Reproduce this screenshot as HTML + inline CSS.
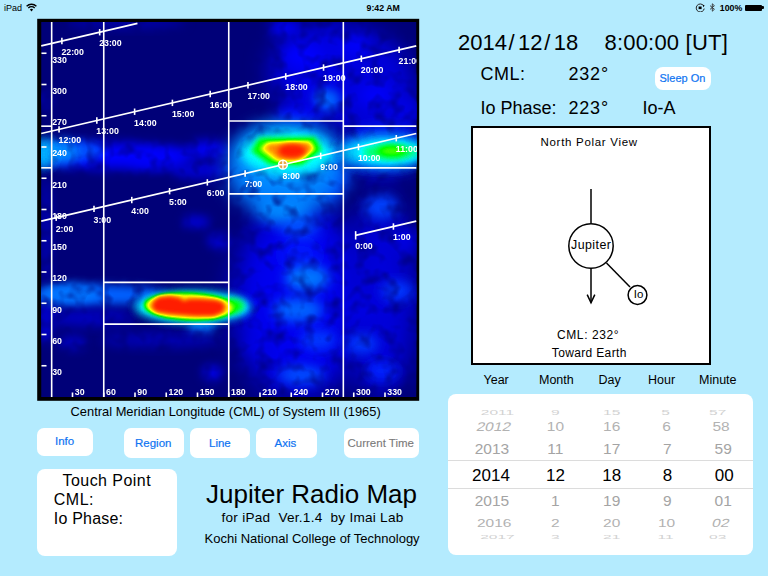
<!DOCTYPE html>
<html><head><meta charset="utf-8">
<style>
html,body{margin:0;padding:0}
body{width:768px;height:576px;background:#B4EBFE;position:relative;overflow:hidden;font-family:"Liberation Sans",sans-serif;color:#000}
.a{position:absolute;white-space:nowrap;line-height:1}
.w{position:absolute;background:#fff}
.bt{color:#0f74f2;font-size:11.5px;-webkit-text-stroke:0.2px #0f74f2}
</style></head><body>
<!-- status bar -->
<div class="a" id="s_ipad" style="left:4px;top:3.9px;font-size:9px">iPad</div>
<svg class="a" style="left:26px;top:3px" width="11" height="9" viewBox="0 0 11 9"><path d="M0.6 3.2 A7 7 0 0 1 10.4 3.2" stroke="#000" stroke-width="1.4" fill="none"/><path d="M2.3 5 A4.6 4.6 0 0 1 8.7 5" stroke="#000" stroke-width="1.4" fill="none"/><path d="M3.9 6.6 A2.2 2.2 0 0 1 7.1 6.6 L5.5 8.4 Z" fill="#000"/></svg>
<div class="a" id="s_time" style="left:366.5px;top:3.6px;font-size:8.8px;font-weight:bold">9:42 AM</div>
<svg class="a" style="left:695px;top:3px" width="11" height="9" viewBox="0 0 11 9"><path d="M8.6 2.8 A4 4 0 1 0 9.2 5.6" stroke="#222" stroke-width="1" fill="none"/><path d="M7.6 1.6 L9.6 2.4 L8.3 4.2 Z" fill="#000"/><rect x="3.6" y="3.5" width="3" height="2.6" fill="#000"/></svg>
<svg class="a" style="left:709px;top:3px" width="7" height="9" viewBox="0 0 7 9"><path d="M1 2.6 L5.4 6.3 L3.3 8.2 L3.3 0.8 L5.4 2.7 L1 6.4" stroke="#333" stroke-width="0.9" fill="none"/></svg>
<div class="a" id="s_pct" style="left:719.8px;top:3.6px;font-size:8.8px;font-weight:bold">100%</div>
<div class="w" style="left:745px;top:4.5px;width:17px;height:6.5px;background:#000;border-radius:1px"></div>
<div class="w" style="left:762.3px;top:6.3px;width:1.5px;height:2.8px;background:#000;border-radius:0 1px 1px 0"></div>

<!-- right panel -->
<div class="a" id="r_date" style="left:458px;top:32px;font-size:22px">2014<span style="margin:0 3.4px 0 1.6px">/</span>12<span style="margin:0 3.4px 0 1.6px">/</span>18</div>
<div class="a" id="r_ut" style="left:604.5px;top:32px;font-size:22px;letter-spacing:0.2px">8:00:00 [UT]</div>
<div class="a" id="r_cml" style="left:480.5px;top:65.2px;font-size:18px;letter-spacing:0.5px">CML:</div>
<div class="a" id="r_cmlv" style="left:568.5px;top:65.2px;font-size:18px;letter-spacing:0.8px">232°</div>
<div class="a" id="r_io" style="left:480.5px;top:98.5px;font-size:18px">Io Phase:</div>
<div class="a" id="r_iov" style="left:568.5px;top:98.5px;font-size:18px;letter-spacing:0.8px">223°</div>
<div class="a" id="r_ioa" style="left:642.5px;top:98.5px;font-size:18px">Io-A</div>
<div class="w" style="left:655px;top:67px;width:56px;height:23px;border-radius:8px"></div>
<div class="a bt" id="r_sleep" style="left:659.5px;top:72.5px;font-size:11px">Sleep On</div>

<!-- polar view -->
<div class="w" style="left:471px;top:126px;width:236px;height:235px;border:2px solid #000"></div>
<div class="a" id="p_title" style="left:540.5px;top:137.2px;font-size:11.5px;letter-spacing:0.7px">North Polar View</div>
<svg class="a" style="left:471px;top:126px" width="240" height="240">
<g stroke="#000" stroke-width="1.5" fill="none">
<line x1="120" y1="63" x2="120" y2="97"/>
<circle cx="120" cy="120" r="22.2"/>
<line x1="120" y1="142" x2="120" y2="176.5"/>
<polyline points="116.2,168.6 120,176.8 123.8,168.6"/>
<line x1="135.5" y1="137" x2="159" y2="161"/>
<circle cx="166.5" cy="169" r="9.4"/>
</g></svg>
<div class="a" id="p_jup" style="left:571px;top:239.3px;font-size:12.4px;letter-spacing:0.45px">Jupiter</div>
<div class="a" id="p_io" style="left:633.8px;top:289px;font-size:11.5px">Io</div>
<div class="a" id="p_cml" style="left:557px;top:328.8px;font-size:12px;letter-spacing:0.6px">CML: 232°</div>
<div class="a" id="p_tw" style="left:551.8px;top:346.6px;font-size:12px;letter-spacing:0.35px">Toward Earth</div>

<!-- picker -->
<div class="a" id="k_year" style="left:483.5px;top:373.5px;font-size:12.5px">Year</div>
<div class="a" id="k_month" style="left:539px;top:373.5px;font-size:12.5px">Month</div>
<div class="a" id="k_day" style="left:598.5px;top:373.5px;font-size:12.5px">Day</div>
<div class="a" id="k_hour" style="left:648px;top:373.5px;font-size:12.5px">Hour</div>
<div class="a" id="k_min" style="left:699px;top:373.5px;font-size:12.5px">Minute</div>
<div class="w" style="left:448px;top:394px;width:305px;height:161px;border-radius:8px"></div>
<div class="w" style="left:448px;top:459.7px;width:305px;height:1px;background:#dcdcdc"></div>
<div class="w" style="left:448px;top:487.8px;width:305px;height:1px;background:#dcdcdc"></div>
<div class="a" style="left:447.5px;width:100px;text-align:center;top:405.4px;font-size:15.5px;color:#d2d2d2;transform-origin:50% 7.6px;transform:scaleY(0.42)">2011</div>
<div class="a" style="left:444.2px;width:100px;text-align:center;top:419.1px;font-size:15.5px;color:#b2b2b2;transform-origin:50% 7.6px;transform:scaleY(0.81) skewX(-11deg)">2012</div>
<div class="a" style="left:442.0px;width:100px;text-align:center;top:441.0px;font-size:15.5px;color:#a4a4a4;transform-origin:50% 7.6px;transform:scaleY(1.0)">2013</div>
<div class="a" style="left:441.0px;width:100px;text-align:center;top:466.7px;font-size:17.0px;color:#000;transform-origin:50% 8.3px;transform:scaleY(1.0)">2014</div>
<div class="a" style="left:442.0px;width:100px;text-align:center;top:493.1px;font-size:15.5px;color:#a4a4a4;transform-origin:50% 7.6px;transform:scaleY(1.0)">2015</div>
<div class="a" style="left:444.2px;width:100px;text-align:center;top:514.6px;font-size:15.5px;color:#b2b2b2;transform-origin:50% 7.6px;transform:scaleY(0.76)">2016</div>
<div class="a" style="left:447.5px;width:100px;text-align:center;top:528.5px;font-size:15.5px;color:#d2d2d2;transform-origin:50% 7.6px;transform:scaleY(0.4)">2017</div>
<div class="a" style="left:505.4px;width:100px;text-align:center;top:405.4px;font-size:15.5px;color:#d2d2d2;transform-origin:50% 7.6px;transform:scaleY(0.42)">9</div>
<div class="a" style="left:505.4px;width:100px;text-align:center;top:419.1px;font-size:15.5px;color:#b2b2b2;transform-origin:50% 7.6px;transform:scaleY(0.81)">10</div>
<div class="a" style="left:505.4px;width:100px;text-align:center;top:441.0px;font-size:15.5px;color:#a4a4a4;transform-origin:50% 7.6px;transform:scaleY(1.0)">11</div>
<div class="a" style="left:505.4px;width:100px;text-align:center;top:466.7px;font-size:17.0px;color:#000;transform-origin:50% 8.3px;transform:scaleY(1.0)">12</div>
<div class="a" style="left:505.4px;width:100px;text-align:center;top:493.1px;font-size:15.5px;color:#a4a4a4;transform-origin:50% 7.6px;transform:scaleY(1.0)">1</div>
<div class="a" style="left:505.4px;width:100px;text-align:center;top:514.6px;font-size:15.5px;color:#b2b2b2;transform-origin:50% 7.6px;transform:scaleY(0.76)">2</div>
<div class="a" style="left:505.4px;width:100px;text-align:center;top:528.5px;font-size:15.5px;color:#d2d2d2;transform-origin:50% 7.6px;transform:scaleY(0.4)">3</div>
<div class="a" style="left:561.7px;width:100px;text-align:center;top:405.4px;font-size:15.5px;color:#d2d2d2;transform-origin:50% 7.6px;transform:scaleY(0.42)">15</div>
<div class="a" style="left:561.7px;width:100px;text-align:center;top:419.1px;font-size:15.5px;color:#b2b2b2;transform-origin:50% 7.6px;transform:scaleY(0.81)">16</div>
<div class="a" style="left:561.7px;width:100px;text-align:center;top:441.0px;font-size:15.5px;color:#a4a4a4;transform-origin:50% 7.6px;transform:scaleY(1.0)">17</div>
<div class="a" style="left:561.7px;width:100px;text-align:center;top:466.7px;font-size:17.0px;color:#000;transform-origin:50% 8.3px;transform:scaleY(1.0)">18</div>
<div class="a" style="left:561.7px;width:100px;text-align:center;top:493.1px;font-size:15.5px;color:#a4a4a4;transform-origin:50% 7.6px;transform:scaleY(1.0)">19</div>
<div class="a" style="left:561.7px;width:100px;text-align:center;top:514.6px;font-size:15.5px;color:#b2b2b2;transform-origin:50% 7.6px;transform:scaleY(0.76)">20</div>
<div class="a" style="left:561.7px;width:100px;text-align:center;top:528.5px;font-size:15.5px;color:#d2d2d2;transform-origin:50% 7.6px;transform:scaleY(0.4)">21</div>
<div class="a" style="left:615.6px;width:100px;text-align:center;top:405.4px;font-size:15.5px;color:#d2d2d2;transform-origin:50% 7.6px;transform:scaleY(0.42)">5</div>
<div class="a" style="left:616.6px;width:100px;text-align:center;top:419.1px;font-size:15.5px;color:#b2b2b2;transform-origin:50% 7.6px;transform:scaleY(0.81)">6</div>
<div class="a" style="left:617.3px;width:100px;text-align:center;top:441.0px;font-size:15.5px;color:#a4a4a4;transform-origin:50% 7.6px;transform:scaleY(1.0)">7</div>
<div class="a" style="left:617.6px;width:100px;text-align:center;top:466.7px;font-size:17.0px;color:#000;transform-origin:50% 8.3px;transform:scaleY(1.0)">8</div>
<div class="a" style="left:617.3px;width:100px;text-align:center;top:493.1px;font-size:15.5px;color:#a4a4a4;transform-origin:50% 7.6px;transform:scaleY(1.0)">9</div>
<div class="a" style="left:616.6px;width:100px;text-align:center;top:514.6px;font-size:15.5px;color:#b2b2b2;transform-origin:50% 7.6px;transform:scaleY(0.76)">10</div>
<div class="a" style="left:615.6px;width:100px;text-align:center;top:528.5px;font-size:15.5px;color:#d2d2d2;transform-origin:50% 7.6px;transform:scaleY(0.4)">11</div>
<div class="a" style="left:667.7px;width:100px;text-align:center;top:405.4px;font-size:15.5px;color:#d2d2d2;transform-origin:50% 7.6px;transform:scaleY(0.42)">57</div>
<div class="a" style="left:671.0px;width:100px;text-align:center;top:419.1px;font-size:15.5px;color:#b2b2b2;transform-origin:50% 7.6px;transform:scaleY(0.81)">58</div>
<div class="a" style="left:673.2px;width:100px;text-align:center;top:441.0px;font-size:15.5px;color:#a4a4a4;transform-origin:50% 7.6px;transform:scaleY(1.0)">59</div>
<div class="a" style="left:674.2px;width:100px;text-align:center;top:466.7px;font-size:17.0px;color:#000;transform-origin:50% 8.3px;transform:scaleY(1.0)">00</div>
<div class="a" style="left:673.2px;width:100px;text-align:center;top:493.1px;font-size:15.5px;color:#a4a4a4;transform-origin:50% 7.6px;transform:scaleY(1.0)">01</div>
<div class="a" style="left:671.0px;width:100px;text-align:center;top:514.6px;font-size:15.5px;color:#b2b2b2;transform-origin:50% 7.6px;transform:scaleY(0.76) skewX(-11deg)">02</div>
<div class="a" style="left:667.7px;width:100px;text-align:center;top:528.5px;font-size:15.5px;color:#d2d2d2;transform-origin:50% 7.6px;transform:scaleY(0.4)">03</div>

<!-- below plot -->
<div class="a" id="xl" style="left:70.5px;top:406.2px;font-size:12.9px">Central Meridian Longitude (CML) of System III (1965)</div>
<div class="w" style="left:37.3px;top:428.3px;width:55.7px;height:27.4px;border-radius:7px"></div>
<div class="a bt" id="b_info" style="left:55px;top:436px">Info</div>
<div class="w" style="left:124.3px;top:427.8px;width:60px;height:30.5px;border-radius:7px"></div>
<div class="a bt" id="b_region" style="left:135px;top:438px">Region</div>
<div class="w" style="left:190.2px;top:427.8px;width:60px;height:30.5px;border-radius:7px"></div>
<div class="a bt" id="b_line" style="left:209px;top:438px">Line</div>
<div class="w" style="left:256px;top:427.8px;width:60.5px;height:30.5px;border-radius:7px"></div>
<div class="a bt" id="b_axis" style="left:274.5px;top:438px">Axis</div>
<div class="w" style="left:343.8px;top:427.8px;width:75.2px;height:30.5px;border-radius:7px"></div>
<div class="a bt" id="b_ct" style="left:347.5px;top:438px;color:#7a7a7a;-webkit-text-stroke:0.1px #7a7a7a">Current Time</div>

<div class="w" style="left:37.3px;top:469.3px;width:140px;height:86.4px;border-radius:8px"></div>
<div class="a" id="t_tp" style="left:62.5px;top:473px;font-size:16px;letter-spacing:0.45px">Touch Point</div>
<div class="a" id="t_cml" style="left:53.8px;top:491.8px;font-size:16px;letter-spacing:0.5px">CML:</div>
<div class="a" id="t_io" style="left:53.8px;top:510.5px;font-size:16px;letter-spacing:0.2px">Io Phase:</div>

<div class="a" id="j_title" style="left:206px;top:481px;font-size:26px">Jupiter Radio Map</div>
<div class="a" id="j_sub" style="left:221.5px;top:511.3px;font-size:13.6px;letter-spacing:0.25px;white-space:pre">for iPad  Ver.1.4  by Imai Lab</div>
<div class="a" id="j_kochi" style="left:204.5px;top:531.8px;font-size:13px">Kochi National College of Technology</div>
<svg id="plot" width="768" height="576" style="position:absolute;left:0;top:0"><rect x="37.2" y="18.8" width="382" height="382" fill="#000"/><defs><filter id="b2" x="-60%" y="-60%" width="220%" height="220%"><feGaussianBlur stdDeviation="2"/></filter><filter id="b2_2" x="-60%" y="-60%" width="220%" height="220%"><feGaussianBlur stdDeviation="2.2"/></filter><filter id="b2_5" x="-60%" y="-60%" width="220%" height="220%"><feGaussianBlur stdDeviation="2.5"/></filter><filter id="b3" x="-60%" y="-60%" width="220%" height="220%"><feGaussianBlur stdDeviation="3"/></filter><filter id="b4" x="-60%" y="-60%" width="220%" height="220%"><feGaussianBlur stdDeviation="4"/></filter><filter id="b5" x="-60%" y="-60%" width="220%" height="220%"><feGaussianBlur stdDeviation="5"/></filter><filter id="b6" x="-60%" y="-60%" width="220%" height="220%"><feGaussianBlur stdDeviation="6"/></filter><filter id="b7" x="-60%" y="-60%" width="220%" height="220%"><feGaussianBlur stdDeviation="7"/></filter><filter id="b8" x="-60%" y="-60%" width="220%" height="220%"><feGaussianBlur stdDeviation="8"/></filter><filter id="b10" x="-60%" y="-60%" width="220%" height="220%"><feGaussianBlur stdDeviation="10"/></filter><filter id="b12" x="-60%" y="-60%" width="220%" height="220%"><feGaussianBlur stdDeviation="12"/></filter><filter id="b14" x="-60%" y="-60%" width="220%" height="220%"><feGaussianBlur stdDeviation="14"/></filter>
<filter id="jet" x="-50%" y="-50%" width="200%" height="200%" color-interpolation-filters="sRGB">
<feComponentTransfer in="SourceGraphic">
<feFuncR type="table" tableValues="0 0 0 0 0 1 1 1 1"/>
<feFuncG type="table" tableValues="0 0 0.5 1 1 1 0.5 0.1 0"/>
<feFuncB type="table" tableValues="0.47 1 1 1 0 0 0 0 0"/>
</feComponentTransfer>
</filter>
<filter id="mot" filterUnits="userSpaceOnUse" x="41" y="22" width="376" height="376" color-interpolation-filters="sRGB">
<feTurbulence type="fractalNoise" baseFrequency="0.07" numOctaves="2" seed="5" result="n"/>
<feColorMatrix in="n" type="matrix" values="0 0 0 0 0  0 0 0 0 0  0 0 0 0 0  1.6 0 0 0 0.12" result="m"/>
<feComposite in="SourceGraphic" in2="m" operator="in"/>
</filter>
<clipPath id="pc"><rect x="41.25" y="22" width="375" height="375"/></clipPath>
</defs>
<g clip-path="url(#pc)"><rect x="41" y="22" width="376" height="376" fill="rgb(0,0,120)"/><g filter="url(#mot)">
<ellipse cx="330" cy="72" rx="60" ry="50" fill="rgb(0,0,228)" filter="url(#b12)"/>
<ellipse cx="380" cy="110" rx="38" ry="70" fill="rgb(0,0,217)" filter="url(#b12)"/>
<ellipse cx="298" cy="300" rx="64" ry="98" fill="rgb(0,0,239)" filter="url(#b14)"/>
<ellipse cx="380" cy="300" rx="36" ry="98" fill="rgb(0,0,217)" filter="url(#b14)"/>
<ellipse cx="285" cy="28" rx="16" ry="8" fill="rgb(0,0,250)" filter="url(#b6)"/>
<ellipse cx="302" cy="56" rx="20" ry="12" fill="rgb(0,5,255)" filter="url(#b7)"/>
<ellipse cx="327" cy="100" rx="13" ry="11" fill="rgb(0,97,255)" filter="url(#b5)"/>
<ellipse cx="297" cy="114" rx="22" ry="8" fill="rgb(0,5,255)" filter="url(#b6)"/>
<ellipse cx="356" cy="46" rx="14" ry="10" fill="rgb(0,0,250)" filter="url(#b6)"/>
<ellipse cx="375" cy="95" rx="18" ry="12" fill="rgb(0,0,250)" filter="url(#b7)"/>
<ellipse cx="405" cy="110" rx="12" ry="14" fill="rgb(0,0,228)" filter="url(#b7)"/>
<ellipse cx="283" cy="206" rx="26" ry="16" fill="rgb(0,148,255)" filter="url(#b7)"/>
<ellipse cx="300" cy="228" rx="18" ry="12" fill="rgb(0,77,255)" filter="url(#b7)"/>
<ellipse cx="300" cy="255" rx="20" ry="15" fill="rgb(0,25,255)" filter="url(#b8)"/>
<ellipse cx="307" cy="278" rx="22" ry="13" fill="rgb(0,117,255)" filter="url(#b6)"/>
<ellipse cx="298" cy="310" rx="25" ry="12" fill="rgb(0,97,255)" filter="url(#b6)"/>
<ellipse cx="318" cy="340" rx="18" ry="10" fill="rgb(0,56,255)" filter="url(#b6)"/>
<ellipse cx="301" cy="375" rx="23" ry="9" fill="rgb(0,77,255)" filter="url(#b6)"/>
<ellipse cx="260" cy="345" rx="14" ry="9" fill="rgb(0,0,228)" filter="url(#b6)"/>
<ellipse cx="330" cy="180" rx="14" ry="18" fill="rgb(0,15,255)" filter="url(#b7)"/>
<ellipse cx="381" cy="207" rx="17" ry="12" fill="rgb(0,66,255)" filter="url(#b6)"/>
<ellipse cx="397" cy="291" rx="16" ry="10" fill="rgb(0,56,255)" filter="url(#b6)"/>
<ellipse cx="362" cy="344" rx="16" ry="10" fill="rgb(0,56,255)" filter="url(#b6)"/>
<ellipse cx="382" cy="371" rx="16" ry="10" fill="rgb(0,36,255)" filter="url(#b6)"/>
<ellipse cx="360" cy="310" rx="14" ry="10" fill="rgb(0,0,228)" filter="url(#b7)"/>
<ellipse cx="405" cy="240" rx="12" ry="14" fill="rgb(0,0,228)" filter="url(#b7)"/>
<ellipse cx="115" cy="156" rx="78" ry="13" fill="rgb(0,5,255)" filter="url(#b6)"/>
<ellipse cx="76" cy="151" rx="28" ry="10" fill="rgb(0,77,255)" filter="url(#b5)"/>
<ellipse cx="158" cy="160" rx="30" ry="9" fill="rgb(0,0,250)" filter="url(#b6)"/>
<ellipse cx="207" cy="150" rx="20" ry="9" fill="rgb(0,0,250)" filter="url(#b6)"/>
<ellipse cx="200" cy="170" rx="30" ry="8" fill="rgb(0,0,217)" filter="url(#b6)"/>
<ellipse cx="196" cy="222" rx="14" ry="7" fill="rgb(0,0,206)" filter="url(#b5)"/>
<ellipse cx="219" cy="241" rx="12" ry="8" fill="rgb(0,0,206)" filter="url(#b5)"/>
<ellipse cx="46" cy="230" rx="6" ry="55" fill="rgb(0,0,174)" filter="url(#b5)"/>
<ellipse cx="46" cy="320" rx="7" ry="25" fill="rgb(0,0,206)" filter="url(#b5)"/>
<ellipse cx="46" cy="100" rx="6" ry="10" fill="rgb(0,0,174)" filter="url(#b5)"/>
<ellipse cx="100" cy="295" rx="68" ry="10" fill="rgb(0,97,255)" filter="url(#b5)"/>
<ellipse cx="70" cy="294" rx="30" ry="10" fill="rgb(0,117,255)" filter="url(#b5)"/>
<ellipse cx="90" cy="318" rx="45" ry="8" fill="rgb(0,0,196)" filter="url(#b6)"/>
<ellipse cx="202" cy="328" rx="14" ry="7" fill="rgb(0,117,255)" filter="url(#b5)"/>
<ellipse cx="160" cy="340" rx="60" ry="7" fill="rgb(0,0,185)" filter="url(#b6)"/>
<ellipse cx="212" cy="373" rx="10" ry="8" fill="rgb(0,0,228)" filter="url(#b5)"/>
<ellipse cx="73" cy="343" rx="14" ry="8" fill="rgb(0,0,185)" filter="url(#b5)"/>
<ellipse cx="125" cy="22" rx="60" ry="6" fill="rgb(0,0,174)" filter="url(#b6)"/>
<ellipse cx="287" cy="170" rx="60" ry="46" fill="rgb(0,128,255)" filter="url(#b10)"/>
<ellipse cx="285" cy="153" rx="50" ry="28" fill="rgb(0,158,255)" filter="url(#b8)"/>
<ellipse cx="385" cy="150" rx="42" ry="19" fill="rgb(0,77,255)" filter="url(#b8)"/>
<ellipse cx="58" cy="152" rx="20" ry="12" fill="rgb(0,138,255)" filter="url(#b6)"/>
</g>
<g filter="url(#jet)">
<ellipse cx="44" cy="154" rx="10" ry="15" fill="rgb(76,76,76)" filter="url(#b5)"/>
<ellipse cx="287" cy="153" rx="45" ry="21" fill="rgb(94,94,94)" filter="url(#b4)"/>
<polygon points="251,151 259,138 315,137 322,150 302,165 270,165" fill="rgb(128,128,128)" filter="url(#b2_5)"/>
<polygon points="260,149 267,142.5 310,141.5 315,149 299,161 276,161" fill="rgb(163,163,163)" filter="url(#b2)"/>
<polygon points="265,148 271,144 308,143 312,149 297,159 279,159" fill="rgb(189,189,189)" filter="url(#b2)"/>
<ellipse cx="292" cy="151" rx="14" ry="7" fill="rgb(222,222,222)" filter="url(#b2_5)"/>
<ellipse cx="383" cy="152" rx="44" ry="15" fill="rgb(84,84,84)" filter="url(#b6)"/>
<ellipse cx="390" cy="152" rx="30" ry="8.5" fill="rgb(117,117,117)" filter="url(#b4)"/>
<ellipse cx="392" cy="151" rx="14" ry="5" fill="rgb(138,138,138)" filter="url(#b3)"/>
<ellipse cx="193" cy="307" rx="58" ry="16" fill="rgb(92,92,92)" filter="url(#b4)"/>
<ellipse cx="233" cy="306" rx="11" ry="7" fill="rgb(128,128,128)" filter="url(#b3)"/>
<ellipse cx="190" cy="306.5" rx="46" ry="13.5" fill="rgb(133,133,133)" filter="url(#b2_5)" transform="rotate(2 190 306.5)"/>
<ellipse cx="189" cy="306.5" rx="43" ry="11.5" fill="rgb(168,168,168)" filter="url(#b2_2)" transform="rotate(2 189 306.5)"/>
<polygon points="153,302 159,297 170,296 180,298 184,301 189,299 200,299 215,300 222,302 225,306 223,312 214,316 195,316 170,314 157,312 152,308" fill="rgb(222,222,222)" filter="url(#b2_2)"/>
</g></g><g clip-path="url(#pc)"><line x1="51.67" y1="22.0" x2="51.67" y2="397.0" stroke="#fff" stroke-width="1.6"/>
<line x1="103.75" y1="22.0" x2="103.75" y2="397.0" stroke="#fff" stroke-width="1.6"/>
<line x1="228.75" y1="22.0" x2="228.75" y2="397.0" stroke="#fff" stroke-width="1.6"/>
<line x1="343.33" y1="22.0" x2="343.33" y2="397.0" stroke="#fff" stroke-width="1.6"/>
<line x1="103.75" y1="324.08" x2="228.75" y2="324.08" stroke="#fff" stroke-width="1.6"/>
<line x1="103.75" y1="282.42" x2="228.75" y2="282.42" stroke="#fff" stroke-width="1.6"/>
<line x1="228.75" y1="193.88" x2="343.33" y2="193.88" stroke="#fff" stroke-width="1.6"/>
<line x1="228.75" y1="120.96" x2="343.33" y2="120.96" stroke="#fff" stroke-width="1.6"/>
<line x1="343.33" y1="167.83" x2="416.25" y2="167.83" stroke="#fff" stroke-width="1.6"/>
<line x1="41.25" y1="167.83" x2="51.67" y2="167.83" stroke="#fff" stroke-width="1.6"/>
<line x1="343.33" y1="126.17" x2="416.25" y2="126.17" stroke="#fff" stroke-width="1.6"/>
<line x1="41.25" y1="126.17" x2="51.67" y2="126.17" stroke="#fff" stroke-width="1.6"/>
<line x1="72.50" y1="392.5" x2="72.50" y2="397" stroke="#fff" stroke-width="1.6"/>
<line x1="103.75" y1="392.5" x2="103.75" y2="397" stroke="#fff" stroke-width="1.6"/>
<line x1="135.00" y1="392.5" x2="135.00" y2="397" stroke="#fff" stroke-width="1.6"/>
<line x1="166.25" y1="392.5" x2="166.25" y2="397" stroke="#fff" stroke-width="1.6"/>
<line x1="197.50" y1="392.5" x2="197.50" y2="397" stroke="#fff" stroke-width="1.6"/>
<line x1="228.75" y1="392.5" x2="228.75" y2="397" stroke="#fff" stroke-width="1.6"/>
<line x1="260.00" y1="392.5" x2="260.00" y2="397" stroke="#fff" stroke-width="1.6"/>
<line x1="291.25" y1="392.5" x2="291.25" y2="397" stroke="#fff" stroke-width="1.6"/>
<line x1="322.50" y1="392.5" x2="322.50" y2="397" stroke="#fff" stroke-width="1.6"/>
<line x1="353.75" y1="392.5" x2="353.75" y2="397" stroke="#fff" stroke-width="1.6"/>
<line x1="385.00" y1="392.5" x2="385.00" y2="397" stroke="#fff" stroke-width="1.6"/>
<line x1="41.5" y1="365.75" x2="46.5" y2="365.75" stroke="#fff" stroke-width="1.6"/>
<line x1="41.5" y1="334.50" x2="46.5" y2="334.50" stroke="#fff" stroke-width="1.6"/>
<line x1="41.5" y1="303.25" x2="46.5" y2="303.25" stroke="#fff" stroke-width="1.6"/>
<line x1="41.5" y1="272.00" x2="46.5" y2="272.00" stroke="#fff" stroke-width="1.6"/>
<line x1="41.5" y1="240.75" x2="46.5" y2="240.75" stroke="#fff" stroke-width="1.6"/>
<line x1="41.5" y1="209.50" x2="46.5" y2="209.50" stroke="#fff" stroke-width="1.6"/>
<line x1="41.5" y1="178.25" x2="46.5" y2="178.25" stroke="#fff" stroke-width="1.6"/>
<line x1="41.5" y1="147.00" x2="46.5" y2="147.00" stroke="#fff" stroke-width="1.6"/>
<line x1="41.5" y1="115.75" x2="46.5" y2="115.75" stroke="#fff" stroke-width="1.6"/>
<line x1="41.5" y1="84.50" x2="46.5" y2="84.50" stroke="#fff" stroke-width="1.6"/>
<line x1="41.5" y1="53.25" x2="46.5" y2="53.25" stroke="#fff" stroke-width="1.6"/>
<line x1="355.65" y1="235.36" x2="416.25" y2="221.20" stroke="#fff" stroke-width="1.7"/>
<line x1="41.25" y1="221.20" x2="416.25" y2="133.54" stroke="#fff" stroke-width="1.7"/>
<line x1="41.25" y1="133.54" x2="416.25" y2="45.88" stroke="#fff" stroke-width="1.7"/>
<line x1="41.25" y1="45.88" x2="137.45" y2="23.40" stroke="#fff" stroke-width="1.7"/>
<line x1="355.65" y1="231.16" x2="355.65" y2="239.56" stroke="#fff" stroke-width="1.6"/>
<line x1="393.43" y1="223.33" x2="393.43" y2="229.73" stroke="#fff" stroke-width="1.6"/>
<line x1="56.21" y1="214.50" x2="56.21" y2="220.90" stroke="#fff" stroke-width="1.6"/>
<line x1="94.00" y1="205.67" x2="94.00" y2="212.07" stroke="#fff" stroke-width="1.6"/>
<line x1="131.78" y1="196.84" x2="131.78" y2="203.24" stroke="#fff" stroke-width="1.6"/>
<line x1="169.57" y1="188.00" x2="169.57" y2="194.40" stroke="#fff" stroke-width="1.6"/>
<line x1="207.35" y1="179.17" x2="207.35" y2="185.57" stroke="#fff" stroke-width="1.6"/>
<line x1="245.13" y1="170.34" x2="245.13" y2="176.74" stroke="#fff" stroke-width="1.6"/>
<line x1="282.92" y1="161.51" x2="282.92" y2="167.91" stroke="#fff" stroke-width="1.6"/>
<line x1="320.70" y1="152.68" x2="320.70" y2="159.08" stroke="#fff" stroke-width="1.6"/>
<line x1="358.48" y1="143.84" x2="358.48" y2="150.24" stroke="#fff" stroke-width="1.6"/>
<line x1="396.27" y1="135.01" x2="396.27" y2="141.41" stroke="#fff" stroke-width="1.6"/>
<line x1="59.05" y1="126.18" x2="59.05" y2="132.58" stroke="#fff" stroke-width="1.6"/>
<line x1="96.83" y1="117.35" x2="96.83" y2="123.75" stroke="#fff" stroke-width="1.6"/>
<line x1="134.62" y1="108.52" x2="134.62" y2="114.92" stroke="#fff" stroke-width="1.6"/>
<line x1="172.40" y1="99.68" x2="172.40" y2="106.08" stroke="#fff" stroke-width="1.6"/>
<line x1="210.19" y1="90.85" x2="210.19" y2="97.25" stroke="#fff" stroke-width="1.6"/>
<line x1="247.97" y1="82.02" x2="247.97" y2="88.42" stroke="#fff" stroke-width="1.6"/>
<line x1="285.75" y1="73.19" x2="285.75" y2="79.59" stroke="#fff" stroke-width="1.6"/>
<line x1="323.54" y1="64.36" x2="323.54" y2="70.76" stroke="#fff" stroke-width="1.6"/>
<line x1="361.32" y1="55.52" x2="361.32" y2="61.92" stroke="#fff" stroke-width="1.6"/>
<line x1="399.10" y1="46.69" x2="399.10" y2="53.09" stroke="#fff" stroke-width="1.6"/>
<line x1="61.89" y1="37.86" x2="61.89" y2="44.26" stroke="#fff" stroke-width="1.6"/>
<line x1="99.67" y1="29.03" x2="99.67" y2="35.43" stroke="#fff" stroke-width="1.6"/>
<circle cx="282.92" cy="164.71" r="4.4" fill="rgba(250,160,70,0.9)" stroke="#fff" stroke-width="1.5"/>
<line x1="278.92" y1="164.71" x2="286.92" y2="164.71" stroke="#fff" stroke-width="1.4"/>
<line x1="282.92" y1="160.71" x2="282.92" y2="168.71" stroke="#fff" stroke-width="1.4"/>
<g font-family="Liberation Sans" font-weight="bold" font-size="8.8" fill="#fff"><text x="355.15" y="249.26">0:00</text>
<text x="392.93" y="240.43">1:00</text>
<text x="55.71" y="231.60">2:00</text>
<text x="93.50" y="222.77">3:00</text>
<text x="131.28" y="213.94">4:00</text>
<text x="169.07" y="205.10">5:00</text>
<text x="206.85" y="196.27">6:00</text>
<text x="244.63" y="187.44">7:00</text>
<text x="282.42" y="178.61">8:00</text>
<text x="320.20" y="169.78">9:00</text>
<text x="357.98" y="160.94">10:00</text>
<text x="395.77" y="152.11">11:00</text>
<text x="58.55" y="143.28">12:00</text>
<text x="96.33" y="134.45">13:00</text>
<text x="134.12" y="125.62">14:00</text>
<text x="171.90" y="116.78">15:00</text>
<text x="209.69" y="107.95">16:00</text>
<text x="247.47" y="99.12">17:00</text>
<text x="285.25" y="90.29">18:00</text>
<text x="323.04" y="81.46">19:00</text>
<text x="360.82" y="72.62">20:00</text>
<text x="398.60" y="63.79">21:00</text>
<text x="61.39" y="54.96">22:00</text>
<text x="99.17" y="46.13">23:00</text>
<text x="74.80" y="394.6">30</text>
<text x="106.05" y="394.6">60</text>
<text x="137.30" y="394.6">90</text>
<text x="168.55" y="394.6">120</text>
<text x="199.80" y="394.6">150</text>
<text x="231.05" y="394.6">180</text>
<text x="262.30" y="394.6">210</text>
<text x="293.55" y="394.6">240</text>
<text x="324.80" y="394.6">270</text>
<text x="356.05" y="394.6">300</text>
<text x="387.30" y="394.6">330</text>
<text x="52.2" y="375.15">30</text>
<text x="52.2" y="343.90">60</text>
<text x="52.2" y="312.65">90</text>
<text x="52.2" y="281.40">120</text>
<text x="52.2" y="250.15">150</text>
<text x="52.2" y="218.90">180</text>
<text x="52.2" y="187.65">210</text>
<text x="52.2" y="156.40">240</text>
<text x="52.2" y="125.15">270</text>
<text x="52.2" y="93.90">300</text>
<text x="52.2" y="62.65">330</text></g></g></svg>
</body></html>
